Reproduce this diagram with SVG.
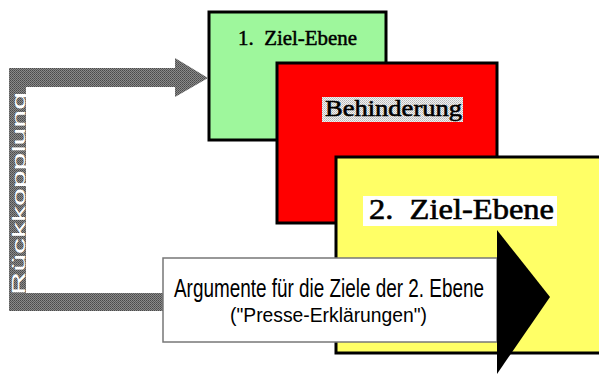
<svg xmlns="http://www.w3.org/2000/svg" width="599" height="377" viewBox="0 0 599 377">
<style>
.box{stroke:#000;stroke-width:3}
.serif{font-family:"Liberation Serif","Times New Roman",serif;fill:#000;stroke:#000}
.sans{font-family:"Liberation Sans",Arial,sans-serif;fill:#000}
</style>
<defs>
<pattern id="dgray" width="2" height="2" patternUnits="userSpaceOnUse">
<rect width="2" height="2" fill="#8a8a8a"/>
<rect width="1" height="1" fill="#4a4a4a"/>
<rect x="1" y="1" width="1" height="1" fill="#5a5a5a"/>
</pattern>
<pattern id="lgray" width="2" height="2" patternUnits="userSpaceOnUse">
<rect width="2" height="2" fill="#f2f2f2"/>
<rect width="1" height="1" fill="#b8b8b8"/>
<rect x="1" y="1" width="1" height="1" fill="#c8c8c8"/>
</pattern>
</defs>
<rect width="599" height="377" fill="#fff"/>
<g id="ziel1">
<rect class="box" x="209" y="12" width="177" height="128" fill="#9ef79c"/>
<text class="serif" x="238" y="45" font-size="21" stroke-width="0.5" textLength="119" lengthAdjust="spacingAndGlyphs" xml:space="preserve">1.  Ziel-Ebene</text>
</g>
<g id="behinderung">
<rect class="box" x="277" y="63" width="220" height="160" fill="#ff0000"/>
<rect x="322" y="97" width="141" height="25" fill="url(#lgray)"/>
<text class="serif" x="325" y="116" font-size="24" stroke-width="0.6" textLength="137" lengthAdjust="spacingAndGlyphs">Behinderung</text>
</g>
<g id="ziel2">
<rect class="box" x="336" y="157" width="270" height="196" fill="#ffff66"/>
<rect x="363" y="196" width="194" height="30" fill="#fff"/>
<text class="serif" x="369" y="219" font-size="29" stroke-width="0.6" textLength="185" lengthAdjust="spacingAndGlyphs" xml:space="preserve">2.  Ziel-Ebene</text>
</g>
<g id="connectors">
<path d="M9,68 H175 V58 L208,78 L175,97 V87 H26 V293 H163 V311 H9 Z" fill="url(#dgray)"/>
<text class="sans" transform="translate(25,295) rotate(-90)" x="0" y="0" font-size="19" style="fill:#fff" textLength="203" lengthAdjust="spacingAndGlyphs">Rückkopplung</text>
</g>
<g id="argumente">
<rect x="163" y="258" width="334" height="84" fill="#fff" stroke="#777" stroke-width="1.5"/>
<polygon points="497,230 550,297 497,374" fill="#000"/>
<text class="sans" x="174" y="297" font-size="25" textLength="310" lengthAdjust="spacingAndGlyphs">Argumente für die Ziele der 2. Ebene</text>
<text class="sans" x="230" y="322" font-size="20" textLength="197" lengthAdjust="spacingAndGlyphs">("Presse-Erklärungen")</text>
</g>
</svg>
